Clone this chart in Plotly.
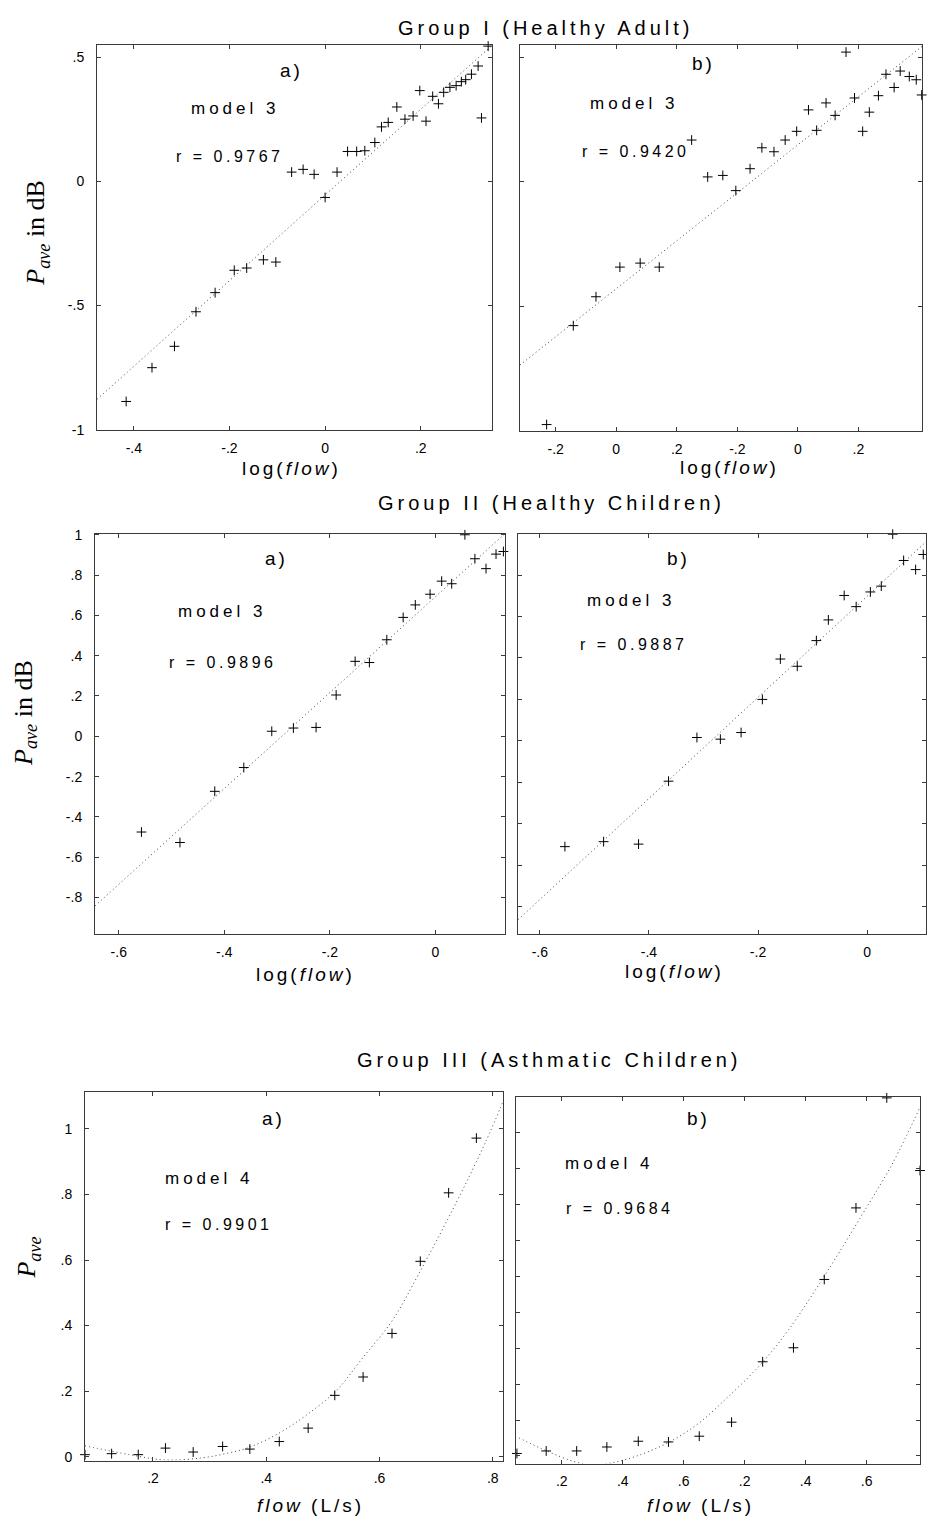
import plotly.graph_objects as go

W, H = 927, 1525

# ---------------- data ----------------
# Group I (Healthy Adult) a)
g1a_x = [-0.416, -0.362, -0.315, -0.270, -0.230, -0.190, -0.164, -0.129, -0.103, -0.070,
         -0.046, -0.023, 0.000, 0.025, 0.047, 0.066, 0.083, 0.104, 0.118, 0.132,
         0.150, 0.167, 0.184, 0.198, 0.211, 0.225, 0.237, 0.248, 0.261, 0.274,
         0.285, 0.294, 0.306, 0.320, 0.327, 0.341, 0.350]
g1a_y = [-0.886, -0.750, -0.664, -0.525, -0.448, -0.358, -0.349, -0.316, -0.325, 0.037,
         0.048, 0.028, -0.065, 0.037, 0.120, 0.120, 0.123, 0.156, 0.219, 0.237,
         0.299, 0.250, 0.263, 0.365, 0.242, 0.342, 0.312, 0.358, 0.378, 0.385,
         0.401, 0.409, 0.431, 0.464, 0.255, 0.544, 0.427]
g1a_fit = [1.724, -0.055]          # slope, intercept
# Group I (Healthy Adult) b)
g1b_x = [-0.830, -0.742, -0.667, -0.588, -0.521, -0.458, -0.351, -0.298, -0.248, -0.205,
         -0.158, -0.119, -0.079, -0.042, -0.004, 0.035, 0.062, 0.093, 0.123, 0.159,
         0.187, 0.214, 0.236, 0.266, 0.291, 0.318, 0.338, 0.368, 0.391, 0.409]
g1b_y = [-0.975, -0.578, -0.462, -0.343, -0.327, -0.343, 0.167, 0.019, 0.025, -0.036,
         0.052, 0.136, 0.120, 0.167, 0.202, 0.288, 0.206, 0.316, 0.266, 0.520,
         0.336, 0.202, 0.279, 0.345, 0.431, 0.378, 0.444, 0.422, 0.409, 0.348]
g1b_fit = [0.963, 0.148]
# Group II (Healthy Children) a)
g2a_x = [-0.557, -0.484, -0.418, -0.363, -0.310, -0.269, -0.226, -0.188, -0.152, -0.125,
         -0.092, -0.061, -0.038, -0.010, 0.012, 0.031, 0.056, 0.075, 0.096, 0.115, 0.129]
g2a_y = [-0.475, -0.527, -0.273, -0.155, 0.025, 0.041, 0.044, 0.205, 0.372, 0.366,
         0.479, 0.590, 0.652, 0.705, 0.770, 0.757, 1.000, 0.881, 0.832, 0.904, 0.917]
g2a_fit = [2.378, 0.692]
# Group II (Healthy Children) b)
g2b_x = [-0.554, -0.483, -0.419, -0.364, -0.312, -0.269, -0.231, -0.192, -0.159, -0.128,
         -0.093, -0.071, -0.042, -0.020, 0.006, 0.026, 0.047, 0.067, 0.089, 0.103]
g2b_y = [-0.511, -0.487, -0.499, -0.195, 0.016, 0.008, 0.040, 0.200, 0.395, 0.360,
         0.484, 0.584, 0.702, 0.648, 0.719, 0.747, 0.998, 0.871, 0.827, 0.900]
g2b_fit = [2.441, 0.698]
# Group III (Asthmatic Children) a)
g3a_x = [0.080, 0.127, 0.174, 0.222, 0.271, 0.323, 0.371, 0.423, 0.474, 0.521,
         0.571, 0.622, 0.672, 0.722, 0.771]
g3a_y = [0.006, 0.009, 0.006, 0.026, 0.014, 0.031, 0.023, 0.046, 0.087, 0.187,
         0.243, 0.376, 0.596, 0.805, 0.972]
g3a_fit_x = [0.080, 0.159, 0.220, 0.286, 0.333, 0.371, 0.424, 0.471, 0.524, 0.571,
             0.622, 0.670, 0.736, 0.787, 0.822]
g3a_fit_y = [0.033, 0.006, -0.010, -0.004, 0.011, 0.029, 0.073, 0.127, 0.202, 0.303,
             0.414, 0.560, 0.777, 0.959, 1.100]
# Group III (Asthmatic Children) b)
g3b_x = [0.053, 0.149, 0.249, 0.348, 0.451, 0.550, 0.651, 0.757, 0.859, 0.960,
         1.061, 1.165, 1.266, 1.375]
g3b_y = [0.007, 0.014, 0.014, 0.025, 0.041, 0.039, 0.055, 0.094, 0.262, 0.301,
         0.491, 0.690, 0.996, 0.794]
g3b_fit_x = [0.060, 0.151, 0.238, 0.300, 0.360, 0.446, 0.544, 0.643, 0.741, 0.845,
             0.938, 1.058, 1.178, 1.287, 1.375]
g3b_fit_y = [0.050, 0.014, -0.015, -0.025, -0.020, 0.000, 0.035, 0.087, 0.161, 0.248,
             0.344, 0.496, 0.661, 0.817, 0.970]

# tick labels
t1a_xv, t1a_xt = [-0.4, -0.2, 0, 0.2], ["-.4", "-.2", "0", ".2"]
t1_yv, t1_yt = [-1, -0.5, 0, 0.5], ["-1", "-.5", "0", ".5"]
t1b_xv, t1b_xt = [-0.8, -0.6, -0.4, -0.2, 0, 0.2], ["-.2", "0", ".2", "-.2", "0", ".2"]
t2_xv, t2_xt = [-0.6, -0.4, -0.2, 0], ["-.6", "-.4", "-.2", "0"]
t2_yv = [-0.8, -0.6, -0.4, -0.2, 0, 0.2, 0.4, 0.6, 0.8, 1.0]
t2_yt = ["-.8", "-.6", "-.4", "-.2", "0", ".2", ".4", ".6", ".8", "1"]
t3a_xv, t3a_xt = [0.2, 0.4, 0.6, 0.8], [".2", ".4", ".6", ".8"]
t3a_yv, t3a_yt = [0, 0.2, 0.4, 0.6, 0.8, 1.0], ["0", ".2", ".4", ".6", ".8", "1"]
t3b_xv, t3b_xt = [0.2, 0.4, 0.6, 0.8, 1.0, 1.2], [".2", ".4", ".6", ".2", ".4", ".6"]
t3b_yv = [0, 0.1, 0.2, 0.3, 0.4, 0.5, 0.6, 0.7, 0.8, 0.9, 1.0]

# ---------------- layout helpers ----------------
def fx(p):
    return p / W


def fy(p):
    return 1 - p / H


SANS = "Liberation Sans, Arial, sans-serif"
SERIF = "Liberation Serif, Times New Roman, serif"
FRAME = "#3a3a3a"

panels = [
    dict(x=(97, 492), y=(38, 427), xr=[-0.477, 0.349], yr=[-1.0, 0.55],
         xt=(t1a_xv, t1a_xt), yt=(t1_yv, t1_yt), ylab=True),
    dict(x=(520, 922), y=(38, 428), xr=[-0.918, 0.410], yr=[-1.0, 0.55],
         xt=(t1b_xv, t1b_xt), yt=(t1_yv, t1_yt), ylab=False),
    dict(x=(95, 505), y=(532, 936), xr=[-0.645, 0.132], yr=[-0.98, 1.005],
         xt=(t2_xv, t2_xt), yt=(t2_yv, t2_yt), ylab=True),
    dict(x=(518, 926), y=(532, 936), xr=[-0.64, 0.108], yr=[-0.932, 1.0],
         xt=(t2_xv, t2_xt), yt=(t2_yv, t2_yt), ylab=False),
    dict(x=(85, 503), y=(1096, 1468), xr=[0.08, 0.818], yr=[-0.012, 1.112],
         xt=(t3a_xv, t3a_xt), yt=(t3a_yv, t3a_yt), ylab=True),
    dict(x=(516, 920), y=(1101, 1471), xr=[0.05, 1.375], yr=[-0.021, 0.998],
         xt=(t3b_xv, t3b_xt), yt=(t3b_yv, None), ylab=False),
]

fig = go.Figure()

scatter_sets = [(g1a_x, g1a_y), (g1b_x, g1b_y), (g2a_x, g2a_y),
                (g2b_x, g2b_y), (g3a_x, g3a_y), (g3b_x, g3b_y)]
lin_fits = [g1a_fit, g1b_fit, g2a_fit, g2b_fit]
curve_fits = [(g3a_fit_x, g3a_fit_y), (g3b_fit_x, g3b_fit_y)]
DOT = dict(color="#444", width=1, dash="1px,3px")

for i, p in enumerate(panels):
    n = "" if i == 0 else str(i + 1)
    xa, ya = "x" + n, "y" + n
    if i < 4:
        m, b = lin_fits[i]
        lx = [p["xr"][0], p["xr"][1]]
        ly = [m * v + b for v in lx]
        fig.add_trace(go.Scatter(x=lx, y=ly, mode="lines", xaxis=xa, yaxis=ya,
                                 line=DOT, showlegend=False, hoverinfo="skip"))
    else:
        cx, cy = curve_fits[i - 4]
        fig.add_trace(go.Scatter(x=cx, y=cy, mode="lines", xaxis=xa, yaxis=ya,
                                 line=dict(DOT, shape="spline", smoothing=1.0),
                                 showlegend=False, hoverinfo="skip"))
    sx, sy = scatter_sets[i]
    fig.add_trace(go.Scatter(x=sx, y=sy, mode="markers", xaxis=xa, yaxis=ya,
                             cliponaxis=False,
                             marker=dict(symbol="cross-thin", size=7,
                                         line=dict(color="black", width=1),
                                         color="black"),
                             showlegend=False))

    xk = "xaxis" + n
    yk = "yaxis" + n
    common = dict(showgrid=False, zeroline=False, showline=True, linecolor=FRAME,
                  linewidth=1, mirror="ticks", ticks="inside", ticklen=4,
                  tickcolor=FRAME, tickfont=dict(family=SANS, size=14, color="black"))
    fig.layout[xk] = dict(domain=[fx(p["x"][0]), fx(p["x"][1])], range=p["xr"],
                          anchor=ya, tickmode="array", tickvals=p["xt"][0],
                          ticktext=p["xt"][1], ticklabelstandoff=5, **common)
    if p["ylab"]:
        fig.layout[yk] = dict(domain=[fy(p["y"][1]), fy(p["y"][0])], range=p["yr"],
                              anchor=xa, tickmode="array", tickvals=p["yt"][0],
                              ticktext=p["yt"][1], ticklabelstandoff=9, **common)
    else:
        fig.layout[yk] = dict(domain=[fy(p["y"][1]), fy(p["y"][0])], range=p["yr"],
                              anchor=xa, tickmode="array", tickvals=p["yt"][0],
                              showticklabels=False, **common)

ann = []


def text(t, x, y, size, family=SANS, angle=0, ls=0):
    if ls:
        t = '<span style="letter-spacing:%gpx">%s</span>' % (ls, t)
    ann.append(dict(text=t, x=fx(x), y=fy(y), xref="paper", yref="paper",
                    xanchor="center", yanchor="middle", showarrow=False,
                    textangle=angle, font=dict(family=family, size=size, color="black")))


# group titles
text("Group I (Healthy Adult)", 545, 21, 20, ls=4)
text("Group II (Healthy Children)", 551, 501, 20, ls=4)
text("Group III (Asthmatic Children)", 549, 1063, 20, ls=4)

# panel labels
for lab, x, y in [("a)", 291, 64), ("b)", 703, 57), ("a)", 276, 557),
                  ("b)", 678, 557), ("a)", 273, 1123), ("b)", 698, 1123)]:
    text(lab, x, y, 19, ls=3)
for lab, x, y in [("model 3", 235, 103), ("model 3", 634, 97), ("model 3", 222, 611),
                  ("model 3", 631, 599), ("model 4", 209, 1183), ("model 4", 609, 1168)]:
    text(lab, x, y, 17, ls=4)
for lab, x, y in [("r = 0.9767", 230, 151), ("r = 0.9420", 636, 146),
                  ("r = 0.9896", 223, 662), ("r = 0.9887", 634, 644),
                  ("r = 0.9901", 219, 1230), ("r = 0.9684", 620, 1213)]:
    text(lab, x, y, 16, ls=3.5)

# axis titles
for lab, x, y in [("log(<i>flow</i>)", 291, 466), ("log(<i>flow</i>)", 729, 465),
                  ("log(<i>flow</i>)", 305, 977), ("log(<i>flow</i>)", 674, 974),
                  ("<i>flow</i> (L/s)", 310, 1513), ("<i>flow</i> (L/s)", 700, 1513)]:
    text(lab, x, y, 19, ls=3)
text("<i>P</i><sub><i>ave</i></sub> in dB", 37, 228, 26, SERIF, -90)
text("<i>P</i><sub><i>ave</i></sub> in dB", 25, 713, 26, SERIF, -90)
text("<i>P</i><sub><i>ave</i></sub>", 28, 1263, 26, SERIF, -90)

fig.update_layout(width=W, height=H, margin=dict(l=0, r=0, t=0, b=0),
                  paper_bgcolor="white", plot_bgcolor="white",
                  annotations=ann, showlegend=False)

fig.write_html("out.html")
